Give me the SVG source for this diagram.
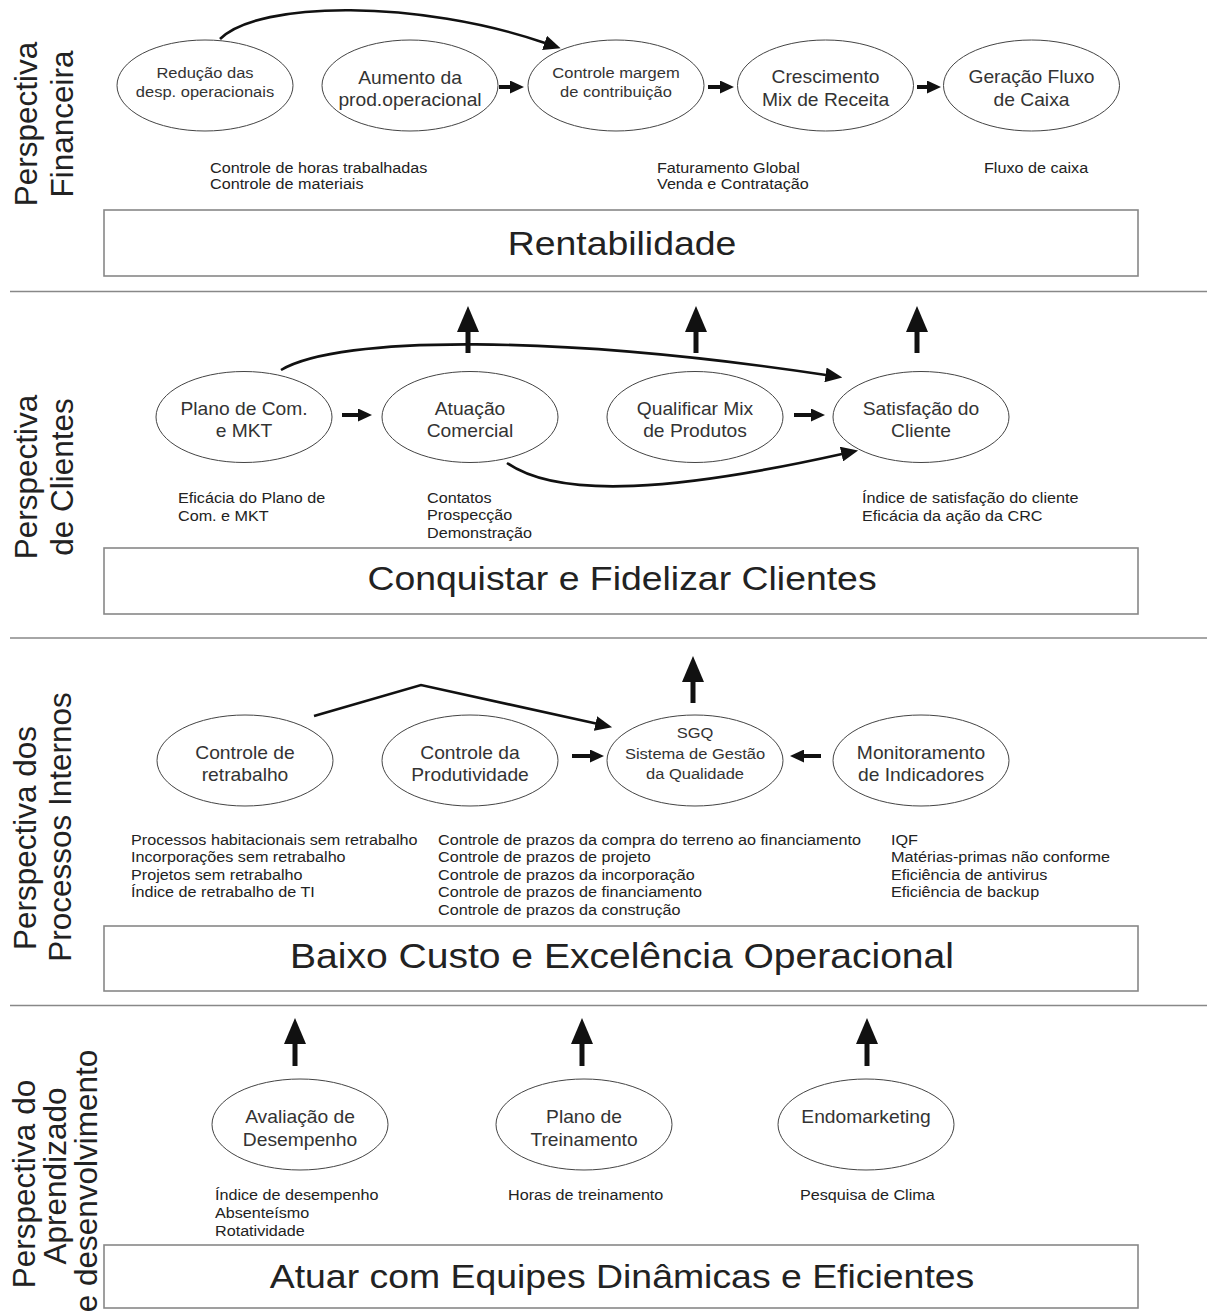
<svg xmlns="http://www.w3.org/2000/svg" width="1207" height="1311" viewBox="0 0 1207 1311">
<style>
  text{font-family:"Liberation Sans",Arial,sans-serif;fill:#222}
  .el{fill:#fff;stroke:#444;stroke-width:1}
  .box{fill:#fff;stroke:#888;stroke-width:1.6}
  .sep{stroke:#888;stroke-width:1.4}
  .lbl{font-size:17.5px;text-anchor:middle;fill:#333}
  .lbs{font-size:15px;text-anchor:middle;fill:#333}
  .ind{font-size:14.7px}
  .ttl{font-size:34px;text-anchor:middle}
  .side{font-size:31.5px;text-anchor:middle}
  .cv{fill:none;stroke:#111;stroke-width:2.6;marker-end:url(#hc)}
  .sm{stroke:#111;stroke-width:4;marker-end:url(#hs)}
  .up{stroke:#111;stroke-width:5;marker-end:url(#hu)}
</style>
<defs>
  <marker id="hs" markerUnits="userSpaceOnUse" markerWidth="14" markerHeight="13" refX="0.5" refY="6.5" orient="auto"><path d="M0,0 L14,6.5 L0,13 z" fill="#111"/></marker>
  <marker id="hu" markerUnits="userSpaceOnUse" markerWidth="26" markerHeight="22" refX="0.5" refY="11" orient="auto"><path d="M0,0 L26,11 L0,22 z" fill="#111"/></marker>
  <marker id="hc" markerUnits="userSpaceOnUse" markerWidth="17" markerHeight="15" refX="0.5" refY="7.5" orient="auto"><path d="M0,0 L17,7.5 L0,15 z" fill="#111"/></marker>
</defs>
<rect width="1207" height="1311" fill="#fff"/>

<!-- band separators -->
<g id="separators">
  <line class="sep" x1="10" y1="291.5" x2="1207" y2="291.5"/>
  <line class="sep" x1="10" y1="638" x2="1207" y2="638"/>
  <line class="sep" x1="10" y1="1005.5" x2="1207" y2="1005.5"/>
</g>

<!-- perspective titles, rotated -->
<g id="perspectives">
  <text class="side" transform="translate(37,124) rotate(-90)"><tspan x="0" y="0">Perspectiva</tspan><tspan x="0" y="36">Financeira</tspan></text>
  <text class="side" transform="translate(37,477) rotate(-90)"><tspan x="0" y="0">Perspectiva</tspan><tspan x="0" y="36">de Clientes</tspan></text>
  <text class="side" transform="translate(36,830) rotate(-90)"><tspan x="-8" y="0">Perspectiva dos</tspan><tspan x="3" y="35">Processos Internos</tspan></text>
  <text class="side" transform="translate(35,1181) rotate(-90)"><tspan x="-3" y="0">Perspectiva do</tspan><tspan x="5" y="31">Aprendizado</tspan><tspan x="0" y="62">e desenvolvimento</tspan></text>
</g>

<!-- objective boxes -->
<g id="box-rentabilidade">
  <rect class="box" x="104" y="210" width="1034" height="66"/>
  <text class="ttl" transform="translate(622,0) scale(1.1,1)" y="255">Rentabilidade</text>
</g>
<g id="box-conquistar">
  <rect class="box" x="104" y="548" width="1034" height="66"/>
  <text class="ttl" transform="translate(622,0) scale(1.1,1)" y="590">Conquistar e Fidelizar Clientes</text>
</g>
<g id="box-baixo-custo">
  <rect class="box" x="104" y="926" width="1034" height="65"/>
  <text class="ttl" style="font-size:35.5px" transform="translate(622,0) scale(1.1,1)" y="968">Baixo Custo e Excelência Operacional</text>
</g>
<g id="box-equipes">
  <rect class="box" x="104" y="1245" width="1034" height="63"/>
  <text class="ttl" transform="translate(622,0) scale(1.1,1)" y="1288">Atuar com Equipes Dinâmicas e Eficientes</text>
</g>

<!-- financial perspective -->
<g id="n-reducao">
  <ellipse class="el" cx="205" cy="85.5" rx="88" ry="45.5"/>
  <text class="lbs" transform="translate(205,0) scale(1.1,1)"><tspan x="0" y="78">Redução das</tspan><tspan x="0" y="97">desp. operacionais</tspan></text>
</g>
<g id="n-aumento">
  <ellipse class="el" cx="410" cy="85.5" rx="88" ry="45.5"/>
  <text class="lbl" transform="translate(410,0) scale(1.1,1)"><tspan x="0" y="84">Aumento da</tspan><tspan x="0" y="106">prod.operacional</tspan></text>
</g>
<g id="n-margem">
  <ellipse class="el" cx="616" cy="85.5" rx="88" ry="45.5"/>
  <text class="lbs" transform="translate(616,0) scale(1.1,1)"><tspan x="0" y="78">Controle margem</tspan><tspan x="0" y="97">de contribuição</tspan></text>
</g>
<g id="n-crescimento">
  <ellipse class="el" cx="825.5" cy="85.5" rx="88" ry="45.5"/>
  <text class="lbl" transform="translate(825.5,0) scale(1.1,1)"><tspan x="0" y="83.5">Crescimento</tspan><tspan x="0" y="106">Mix de Receita</tspan></text>
</g>
<g id="n-fluxo">
  <ellipse class="el" cx="1031.5" cy="85.5" rx="88" ry="45.5"/>
  <text class="lbl" transform="translate(1031.5,0) scale(1.1,1)"><tspan x="0" y="83.5">Geração Fluxo</tspan><tspan x="0" y="106">de Caixa</tspan></text>
</g>
<g id="i-financeira">
  <text class="ind" transform="translate(210,0) scale(1.1,1)"><tspan x="0" y="172.7">Controle de horas trabalhadas</tspan><tspan x="0" y="189.5">Controle de materiais</tspan></text>
  <text class="ind" transform="translate(657,0) scale(1.1,1)"><tspan x="0" y="172.7">Faturamento Global</tspan><tspan x="0" y="189.5">Venda e Contratação</tspan></text>
  <text class="ind" transform="translate(984,0) scale(1.1,1)"><tspan x="0" y="172.7">Fluxo de caixa</tspan></text>
</g>

<!-- customer perspective -->
<g id="n-plano-com">
  <ellipse class="el" cx="244" cy="417" rx="88" ry="45.5"/>
  <text class="lbl" transform="translate(244,0) scale(1.1,1)"><tspan x="0" y="415">Plano de Com.</tspan><tspan x="0" y="437.5">e MKT</tspan></text>
</g>
<g id="n-atuacao">
  <ellipse class="el" cx="470" cy="417" rx="88" ry="45.5"/>
  <text class="lbl" transform="translate(470,0) scale(1.1,1)"><tspan x="0" y="415">Atuação</tspan><tspan x="0" y="437.5">Comercial</tspan></text>
</g>
<g id="n-qualificar">
  <ellipse class="el" cx="695" cy="417" rx="88" ry="45.5"/>
  <text class="lbl" transform="translate(695,0) scale(1.1,1)"><tspan x="0" y="415">Qualificar Mix</tspan><tspan x="0" y="437.5">de Produtos</tspan></text>
</g>
<g id="n-satisfacao">
  <ellipse class="el" cx="921" cy="417" rx="88" ry="45.5"/>
  <text class="lbl" transform="translate(921,0) scale(1.1,1)"><tspan x="0" y="415">Satisfação do</tspan><tspan x="0" y="437.5">Cliente</tspan></text>
</g>
<g id="i-clientes">
  <text class="ind" transform="translate(178,0) scale(1.1,1)"><tspan x="0" y="503">Eficácia do Plano de</tspan><tspan x="0" y="521">Com. e MKT</tspan></text>
  <text class="ind" transform="translate(427,0) scale(1.1,1)"><tspan x="0" y="503">Contatos</tspan><tspan x="0" y="520.5">Prospecção</tspan><tspan x="0" y="538">Demonstração</tspan></text>
  <text class="ind" transform="translate(862,0) scale(1.1,1)"><tspan x="0" y="503">Índice de satisfação do cliente</tspan><tspan x="0" y="521">Eficácia da ação da CRC</tspan></text>
</g>

<!-- internal process perspective -->
<g id="n-retrabalho">
  <ellipse class="el" cx="245" cy="760.5" rx="88" ry="45.5"/>
  <text class="lbl" transform="translate(245,0) scale(1.1,1)"><tspan x="0" y="759">Controle de</tspan><tspan x="0" y="781">retrabalho</tspan></text>
</g>
<g id="n-produtividade">
  <ellipse class="el" cx="470" cy="760.5" rx="88" ry="45.5"/>
  <text class="lbl" transform="translate(470,0) scale(1.1,1)"><tspan x="0" y="759">Controle da</tspan><tspan x="0" y="781">Produtividade</tspan></text>
</g>
<g id="n-sgq">
  <ellipse class="el" cx="695" cy="760.5" rx="88" ry="45.5"/>
  <text class="lbs" transform="translate(695,0) scale(1.1,1)"><tspan x="0" y="738">SGQ</tspan><tspan x="0" y="759">Sistema de Gestão</tspan><tspan x="0" y="779">da Qualidade</tspan></text>
</g>
<g id="n-monitoramento">
  <ellipse class="el" cx="921" cy="760.5" rx="88" ry="45.5"/>
  <text class="lbl" transform="translate(921,0) scale(1.1,1)"><tspan x="0" y="759">Monitoramento</tspan><tspan x="0" y="781">de Indicadores</tspan></text>
</g>
<g id="i-processos">
  <text class="ind" transform="translate(131,0) scale(1.1,1)"><tspan x="0" y="845">Processos habitacionais sem retrabalho</tspan><tspan x="0" y="862.5">Incorporações sem retrabalho</tspan><tspan x="0" y="880">Projetos sem retrabalho</tspan><tspan x="0" y="897.5">Índice de retrabalho de TI</tspan></text>
  <text class="ind" transform="translate(438,0) scale(1.1,1)"><tspan x="0" y="845">Controle de prazos da compra do terreno ao financiamento</tspan><tspan x="0" y="862.5">Controle de prazos de projeto</tspan><tspan x="0" y="880">Controle de prazos da incorporação</tspan><tspan x="0" y="897.5">Controle de prazos de financiamento</tspan><tspan x="0" y="915">Controle de prazos da construção</tspan></text>
  <text class="ind" transform="translate(891,0) scale(1.1,1)"><tspan x="0" y="845">IQF</tspan><tspan x="0" y="862.5">Matérias-primas não conforme</tspan><tspan x="0" y="880">Eficiência de antivirus</tspan><tspan x="0" y="897.5">Eficiência de backup</tspan></text>
</g>

<!-- learning and growth perspective -->
<g id="n-avaliacao">
  <ellipse class="el" cx="300" cy="1124.5" rx="88" ry="45.5"/>
  <text class="lbl" transform="translate(300,0) scale(1.1,1)"><tspan x="0" y="1123">Avaliação de</tspan><tspan x="0" y="1146">Desempenho</tspan></text>
</g>
<g id="n-treinamento">
  <ellipse class="el" cx="584" cy="1124.5" rx="88" ry="45.5"/>
  <text class="lbl" transform="translate(584,0) scale(1.1,1)"><tspan x="0" y="1123">Plano de</tspan><tspan x="0" y="1146">Treinamento</tspan></text>
</g>
<g id="n-endomarketing">
  <ellipse class="el" cx="866" cy="1124.5" rx="88" ry="45.5"/>
  <text class="lbl" transform="translate(866,0) scale(1.1,1)"><tspan x="0" y="1123">Endomarketing</tspan></text>
</g>
<g id="i-aprendizado">
  <text class="ind" transform="translate(215,0) scale(1.1,1)"><tspan x="0" y="1200">Índice de desempenho</tspan><tspan x="0" y="1218">Absenteísmo</tspan><tspan x="0" y="1236">Rotatividade</tspan></text>
  <text class="ind" transform="translate(508,0) scale(1.1,1)"><tspan x="0" y="1200">Horas de treinamento</tspan></text>
  <text class="ind" transform="translate(800,0) scale(1.1,1)"><tspan x="0" y="1200">Pesquisa de Clima</tspan></text>
</g>

<!-- connectors -->
<g id="connectors">
  <!-- financial -->
  <path class="cv" d="M220,39 C260,0 420,0 545,43"/>
  <line class="sm" x1="499" y1="87" x2="510.5" y2="87"/>
  <line class="sm" x1="708" y1="87" x2="720.5" y2="87"/>
  <line class="sm" x1="917" y1="87" x2="927.5" y2="87"/>
  <!-- customer -->
  <path class="cv" d="M281,370 C340,335 560,335 826,375"/>
  <path class="cv" d="M507,463 C560,500 680,490 842,454"/>
  <line class="sm" x1="342" y1="415" x2="358.5" y2="415"/>
  <line class="sm" x1="794" y1="415" x2="811.5" y2="415"/>
  <line class="up" x1="468" y1="353" x2="468" y2="331.5"/>
  <line class="up" x1="696" y1="353" x2="696" y2="331.5"/>
  <line class="up" x1="917" y1="353" x2="917" y2="331.5"/>
  <!-- internal processes -->
  <path class="cv" d="M314,716 L421,685 L596,723.6"/>
  <line class="sm" x1="572" y1="756" x2="590.5" y2="756"/>
  <line class="sm" x1="821" y1="756" x2="803.5" y2="756"/>
  <line class="up" x1="693" y1="703" x2="693" y2="681.5"/>
  <!-- learning -->
  <line class="up" x1="295" y1="1066" x2="295" y2="1043.5"/>
  <line class="up" x1="582" y1="1066" x2="582" y2="1043.5"/>
  <line class="up" x1="867" y1="1066" x2="867" y2="1043.5"/>
</g>
</svg>
